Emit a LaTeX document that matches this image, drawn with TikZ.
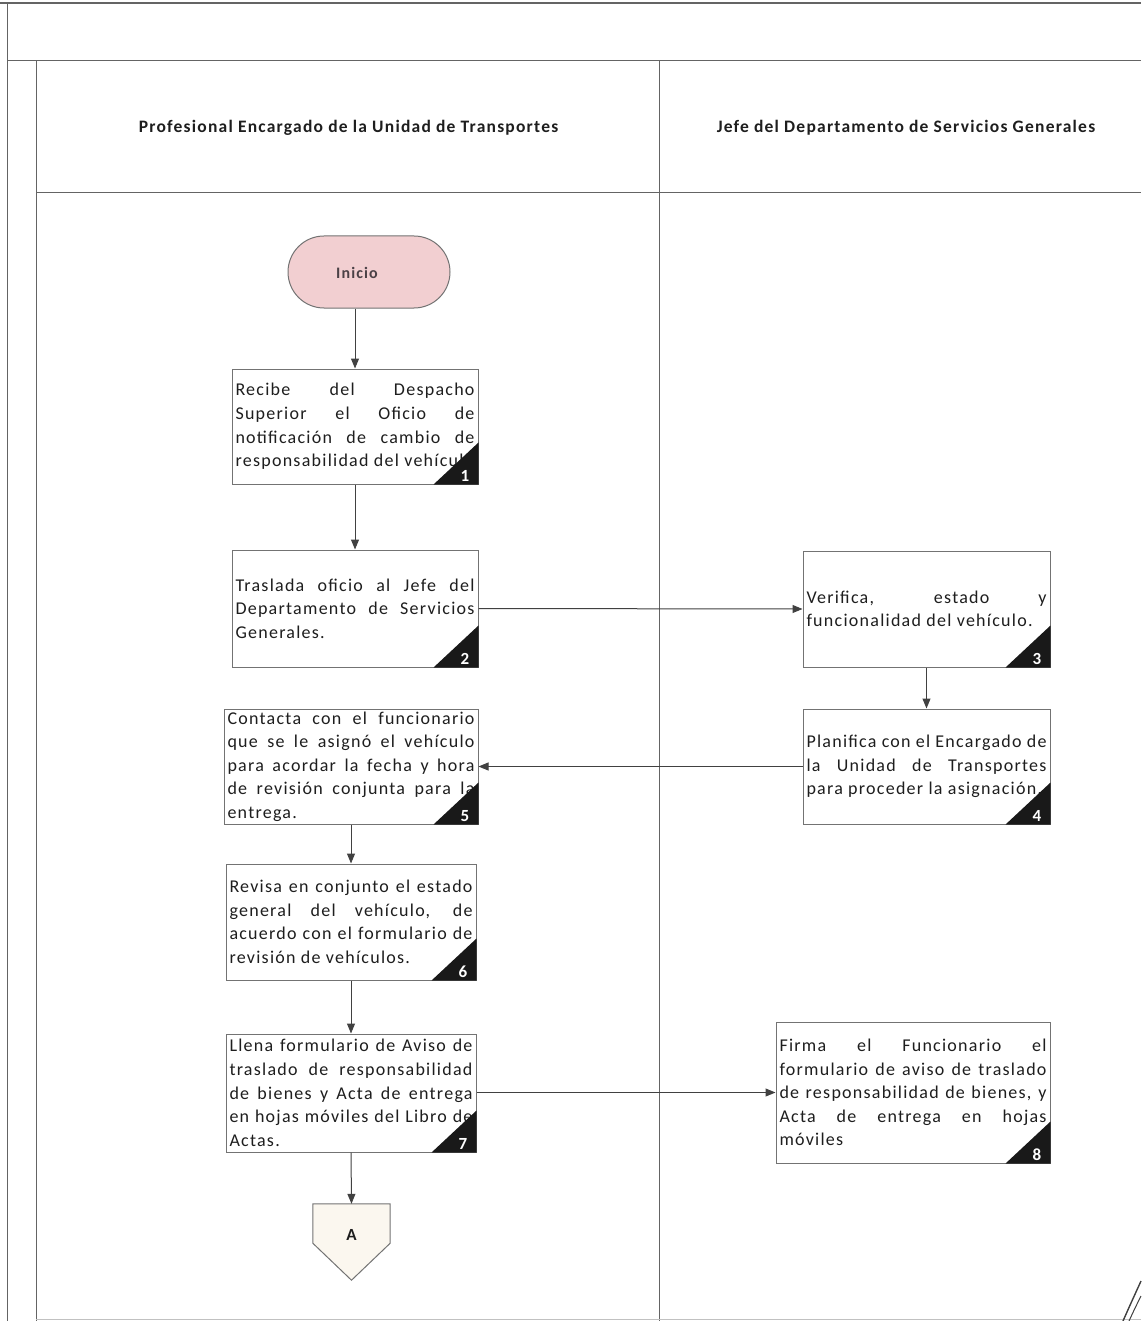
\documentclass[tikz,border=0pt]{standalone}
\usepackage{fontspec}
\setmainfont{Carlito}
\newfontfamily\boxfont[LetterSpace=7]{Carlito}
\usetikzlibrary{arrows.meta}

\definecolor{framegray}{RGB}{100,100,100}
\definecolor{boxgray}{RGB}{115,115,115}
\definecolor{arrowgray}{RGB}{65,65,65}
\definecolor{startpink}{RGB}{242,207,209}
\definecolor{connfill}{RGB}{251,247,239}
\definecolor{textgray}{RGB}{30,30,30}
\definecolor{starttext}{RGB}{75,65,70}

\tikzset{
  frame/.style={draw=framegray, line width=1pt},
  actbox/.style={draw=boxgray, line width=1pt, fill=white, inner xsep=3.5pt,
    inner ysep=2pt, align=justify, text=textgray,
    font=\boxfont\fontsize{18}{23.6}\selectfont},
  lanehead/.style={text=textgray, font=\boxfont\bfseries\fontsize{17.5}{20}\selectfont},
  flow/.style={draw=arrowgray, line width=1pt, -{Triangle[length=10pt,width=8pt]}},
  badgenum/.style={anchor=south east, text=white, inner sep=0pt,
    font=\bfseries\fontsize{17}{17}\selectfont}
}

% black corner triangle with the step number
\newcommand\stepbadge[2]{%
  \fill[black!90] (#1.south east) -- ++(-45,0) -- ++(45,-42) -- cycle;
  \node[badgenum] (#1-num) at ([xshift=-9pt,yshift=2.5pt]#1.south east) {#2};}

\begin{document}
\begin{tikzpicture}[x=1pt,y=-1pt]
\useasboundingbox (0,0) rectangle (1141,1321);

% swimlane frame
\draw[framegray, line width=2pt] (0,3) -- (1141,3);
\draw[frame] (7,4) -- (7,1321);
\draw[frame] (7,61) -- (1141,61);
\draw[frame] (36,61) -- (36,1321);
\draw[frame] (36,193) -- (1141,193);
\draw[frame] (659,61) -- (659,1321);
\draw[draw=framegray!40, line width=1pt] (36,1319) -- (1141,1319);

% lane headers
\node[lanehead] (lane1) at (348.5,128) {Profesional Encargado de la Unidad de Transportes};
\node[lanehead] (lane2) at (906,128) {Jefe del Departamento de Servicios Generales};

% start
\node[draw=boxgray, line width=1pt, fill=startpink, rounded corners=36pt,
  minimum width=162pt, minimum height=72pt] (start) at (369,272) {};
\node[text=starttext, font=\boxfont\bfseries\fontsize{16}{18}\selectfont]
  (startlabel) at (357,273) {Inicio};

% activities
\node[actbox, minimum width=246pt, minimum height=115pt, text width=239pt] (b1) at (355,426.5)
  {Recibe del Despacho\linebreak Superior el Oficio de\linebreak notificación de cambio de\linebreak responsabilidad del vehículo};
\node[actbox, minimum width=246pt, minimum height=117pt, text width=239pt] (b2) at (355,608.5)
  {Traslada oficio al Jefe del\linebreak Departamento de Servicios\linebreak Generales.};
\node[actbox, minimum width=247pt, minimum height=116pt, text width=240pt] (b3) at (926.5,609)
  {Verifica, estado y\linebreak funcionalidad del vehículo.};
\node[actbox, minimum width=247pt, minimum height=115pt, text width=240pt] (b4) at (926.5,766.5)
  {Planifica con el Encargado de\linebreak la Unidad de Transportes\linebreak para proceder la asignación.};
\node[actbox, minimum width=254pt, minimum height=115pt, text width=247pt] (b5) at (351,766.5)
  {Contacta con el funcionario\linebreak que se le asignó el vehículo\linebreak para acordar la fecha y hora\linebreak de revisión conjunta para la\linebreak entrega.};
\node[actbox, minimum width=250pt, minimum height=116pt, text width=243pt] (b6) at (351,922)
  {Revisa en conjunto el estado\linebreak general del vehículo, de\linebreak acuerdo con el formulario de\linebreak revisión de vehículos.};
\node[actbox, minimum width=250pt, minimum height=118pt, text width=243pt] (b7) at (351,1093)
  {Llena formulario de Aviso de\linebreak traslado de responsabilidad\linebreak de bienes y Acta de entrega\linebreak en hojas móviles del Libro de\linebreak Actas.};
\node[actbox, minimum width=274pt, minimum height=141pt, text width=267pt] (b8) at (913,1092.5)
  {Firma el Funcionario el\linebreak formulario de aviso de traslado\linebreak de responsabilidad de bienes, y\linebreak Acta de entrega en hojas\linebreak móviles};

\stepbadge{b1}{1}
\stepbadge{b2}{2}
\stepbadge{b3}{3}
\stepbadge{b4}{4}
\stepbadge{b5}{5}
\stepbadge{b6}{6}
\stepbadge{b7}{7}
\stepbadge{b8}{8}

% off-page connector
\node[minimum width=77pt, minimum height=39pt, inner sep=0pt] (conA) at (351.5,1223.5) {};
\draw[draw=boxgray, line width=1pt, fill=connfill]
  (conA.north west) -- (conA.north east) -- (conA.south east)
  -- ([yshift=-37pt]conA.south) -- (conA.south west) -- cycle;
\node[text=textgray, font=\bfseries\fontsize{17}{17}\selectfont] (conAlabel) at ([yshift=-11pt]conA) {A};

% flow
\draw[flow] (start.south -| b1.north) -- (b1.north);
\draw[flow] (b1.south) -- (b2.north);
\draw[flow] (b2.east) -- (b3.west);
\draw[flow] (b3.south) -- (b4.north);
\draw[flow] (b4.west) -- (b5.east);
\draw[flow] (b5.south) -- (b6.north);
\draw[flow] (b6.south) -- (b7.north);
\draw[flow] (b7.east |- b8.west) -- (b8.west);
\draw[flow] (b7.south) -- (conA.north);

% pen stroke at the lower right edge
\draw[arrowgray, line width=1.4pt] (1123,1321) .. controls (1130,1305) and (1136,1292) .. (1141,1281);
\draw[arrowgray, line width=1pt] (1129,1321) .. controls (1134,1310) and (1138,1302) .. (1141,1296);
\end{tikzpicture}
\end{document}
